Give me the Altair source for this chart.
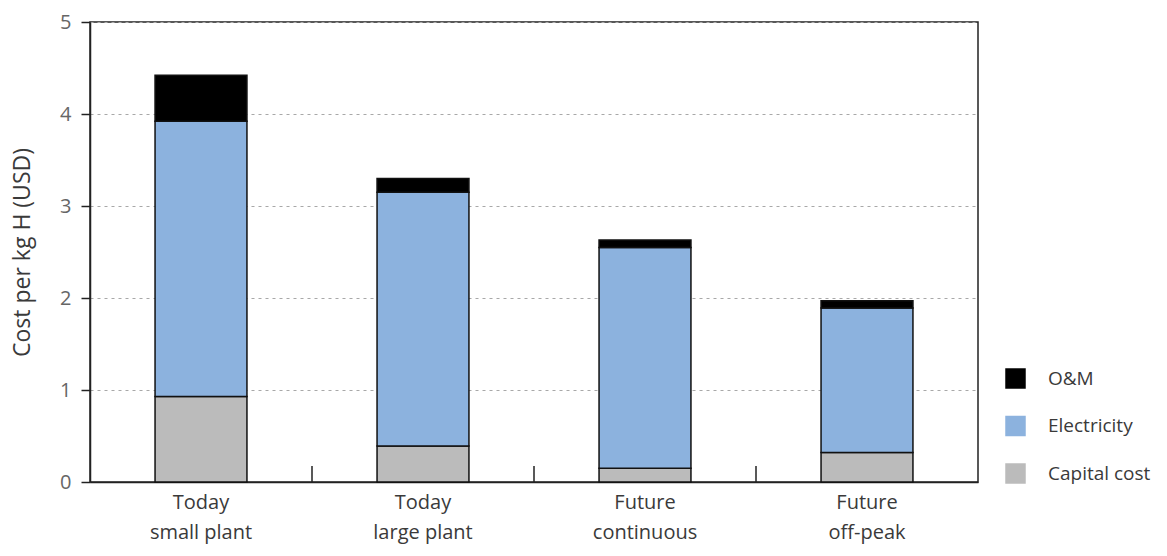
import altair as alt
import pandas as pd

# Hydrogen production cost breakdown per scenario (USD per kg H)
scenarios = ["Today\nsmall plant", "Today\nlarge plant", "Future\ncontinuous", "Future\noff-peak"]
capital_cost = [0.93, 0.39, 0.15, 0.32]
electricity = [2.99, 2.76, 2.40, 1.57]
o_and_m = [0.50, 0.15, 0.08, 0.08]

components = ["O&M", "Electricity", "Capital cost"]
component_colors = ["#000000", "#8cb2de", "#bbbbbb"]

rows = []
for i, s in enumerate(scenarios):
    rows.append({"scenario": s, "component": "Capital cost", "value": capital_cost[i], "stack": 0})
    rows.append({"scenario": s, "component": "Electricity", "value": electricity[i], "stack": 1})
    rows.append({"scenario": s, "component": "O&M", "value": o_and_m[i], "stack": 2})
df = pd.DataFrame(rows)

# category boundaries between neighbouring scenarios get a small inward tick
tick_df = pd.DataFrame({"scenario": scenarios[1:]})

FONT = "Open Sans"
PLOT_W = 888
PLOT_H = 460
LEFT, TOP = 90, 22
PAD_INNER = 0.586
PAD_OUTER = PAD_INNER / 2

x_scale = alt.Scale(domain=scenarios, paddingInner=PAD_INNER, paddingOuter=PAD_OUTER)
# shift from a bar's left edge back to the middle of the gap before it
STEP = PLOT_W / len(scenarios)
GAP_SHIFT = -PAD_INNER * STEP / 2

bars = alt.Chart(df).mark_bar(stroke="#111111", strokeWidth=1.5).encode(
    x=alt.X(
        "scenario:N",
        scale=x_scale,
        sort=scenarios,
        axis=alt.Axis(
            title=None,
            labelAngle=0,
            ticks=False,
            labelFontSize=20,
            labelColor="#3a3a3a",
            labelPadding=10,
            labelLineHeight=30,
            labelFont=FONT,
            domainColor="#222222",
            domainWidth=1.5,
            labelExpr="split(datum.value, '\\n')",
        ),
    ),
    y=alt.Y(
        "value:Q",
        stack="zero",
        scale=alt.Scale(domain=[0, 5], nice=False),
        axis=alt.Axis(
            title="Cost per kg H (USD)",
            values=[0, 1, 2, 3, 4, 5],
            format="d",
            titleFont=FONT,
            titleFontSize=23,
            titleFontWeight="normal",
            titleColor="#3a3a3a",
            titlePadding=25,
            labelFont=FONT,
            labelFontSize=20,
            labelColor="#666666",
            labelPadding=10,
            tickColor="#222222",
            tickWidth=1.5,
            tickSize=9,
            domainColor="#222222",
            domainWidth=1.5,
            grid=True,
            gridColor="#a8a8a8",
            gridDash=[3, 4],
            gridWidth=1.2,
        ),
    ),
    color=alt.Color(
        "component:N",
        scale=alt.Scale(domain=components, range=component_colors),
        legend=alt.Legend(
            title=None,
            orient="none",
            legendX=PLOT_W + 27,
            legendY=346,
            symbolType="square",
            symbolSize=420,
            symbolStrokeWidth=0,
            symbolOpacity=1,
            labelFont=FONT,
            labelFontSize=19,
            labelColor="#3a3a3a",
            labelOffset=22,
            rowPadding=26.5,
        ),
    ),
    order=alt.Order("stack:Q"),
)

ticks = alt.Chart(tick_df).mark_rule(color="#222222", strokeWidth=1.5, xOffset=GAP_SHIFT).encode(
    x=alt.X("scenario:N", bandPosition=0, scale=x_scale, sort=scenarios),
    y=alt.value(PLOT_H - 16),
    y2=alt.value(PLOT_H),
)

chart = (
    alt.layer(bars, ticks)
    .properties(
        width=PLOT_W,
        height=PLOT_H,
        autosize=alt.AutoSizeParams(type="none"),
        padding={"left": LEFT, "top": TOP, "right": 1167 - LEFT - PLOT_W, "bottom": 556 - TOP - PLOT_H},
    )
    .configure(background="white")
    .configure_view(stroke="#222222", strokeWidth=1.5)
)

chart.save("out.html", embed_options={"renderer": "svg", "actions": False})
